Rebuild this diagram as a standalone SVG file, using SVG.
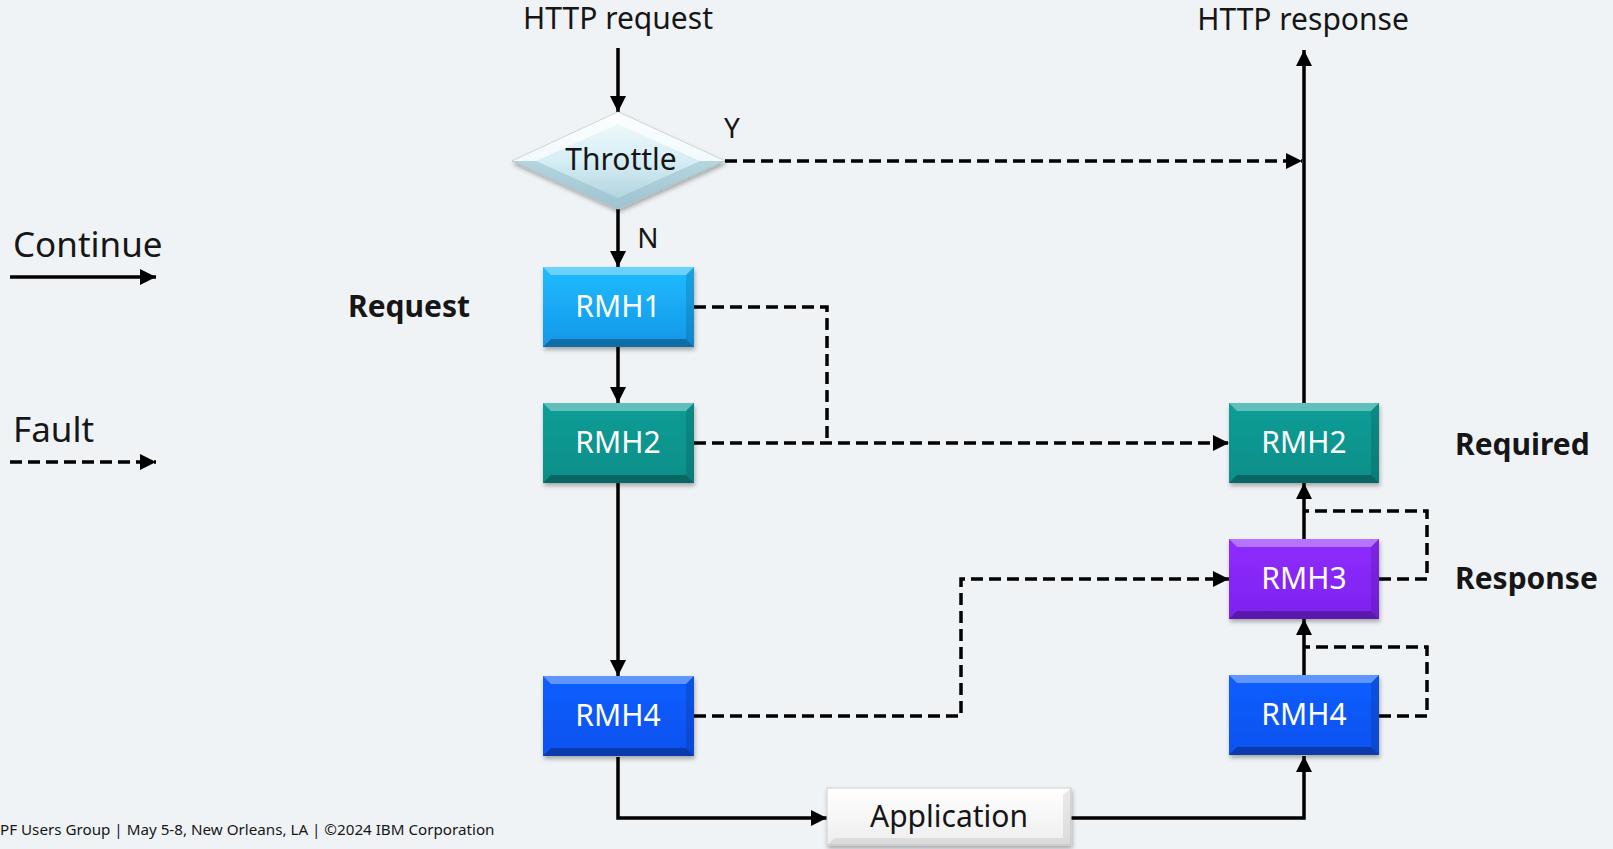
<svg xmlns="http://www.w3.org/2000/svg" width="1613" height="849" viewBox="0 0 1613 849">
<style>
.t{font-family:"Noto Sans","Open Sans","Liberation Sans",sans-serif;fill:#161616}
.lbl{font-size:30px}
.b{font-weight:bold;font-size:30px}
.w{fill:#ffffff;font-size:30px;text-anchor:middle}
.c{stroke:#000;stroke-width:3.5;fill:none}
.d{stroke:#000;stroke-width:3.5;fill:none;stroke-dasharray:12 6}
.edgeL{fill:#ffffff;opacity:0.35}
.edgeD{fill:#000000;opacity:0.28}
.edgeS{fill:#000000;opacity:0.12}
</style>
<defs>
<marker id="ah" viewBox="0 0 16 16" refX="16" refY="8" markerWidth="16" markerHeight="16" markerUnits="userSpaceOnUse" orient="auto">
<path d="M0,0 L16,8 L0,16 z" fill="#000"/>
</marker>
<filter id="sh" x="-10%" y="-10%" width="125%" height="130%">
<feDropShadow dx="1" dy="3" stdDeviation="2" flood-color="#000" flood-opacity="0.3"/>
</filter>
<linearGradient id="g1" x1="0" y1="0" x2="0" y2="1"><stop offset="0" stop-color="#1ebcff"/><stop offset="1" stop-color="#1596e6"/></linearGradient>
<linearGradient id="g2" x1="0" y1="0" x2="0" y2="1"><stop offset="0" stop-color="#0a9d97"/><stop offset="1" stop-color="#078e88"/></linearGradient>
<linearGradient id="g3" x1="0" y1="0" x2="0" y2="1"><stop offset="0" stop-color="#8f2cff"/><stop offset="1" stop-color="#7d22ee"/></linearGradient>
<linearGradient id="g4" x1="0" y1="0" x2="0" y2="1"><stop offset="0" stop-color="#0a5eff"/><stop offset="1" stop-color="#0752ef"/></linearGradient>
<linearGradient id="ga" x1="0" y1="0" x2="0" y2="1"><stop offset="0" stop-color="#ffffff"/><stop offset="1" stop-color="#eeeeee"/></linearGradient>
<linearGradient id="gd" x1="0" y1="0" x2="0" y2="1"><stop offset="0" stop-color="#f4fbfd"/><stop offset="0.5" stop-color="#d6eef5"/><stop offset="1" stop-color="#a9cdd9"/></linearGradient>
</defs>
<rect x="0" y="0" width="1613" height="849" fill="#f0f3f6"/>

<g id="legend">
<text class="t" x="13" y="257" font-size="35">Continue</text>
<line class="c" x1="10" y1="277" x2="156" y2="277" marker-end="url(#ah)"/>
<text class="t" x="13" y="442" font-size="35">Fault</text>
<line class="d" x1="10" y1="462" x2="156" y2="462" marker-end="url(#ah)"/>
</g>

<g id="labels">
<text class="t lbl" x="618" y="29" text-anchor="middle">HTTP request</text>
<text class="t lbl" x="1303" y="30" text-anchor="middle">HTTP response</text>
<text class="t" x="732" y="138" font-size="28" text-anchor="middle">Y</text>
<text class="t" x="648" y="248" font-size="28" text-anchor="middle">N</text>
<text class="t b" x="348" y="317">Request</text>
<text class="t b" x="1455" y="455">Required</text>
<text class="t b" x="1455" y="589">Response</text>
<text class="t" x="0" y="835" font-size="15.2" fill="#333">PF Users Group | May 5-8, New Orleans, LA | ©2024 IBM Corporation</text>
</g>

<g id="connectors">
<line class="c" x1="618" y1="48" x2="618" y2="112" marker-end="url(#ah)"/>
<line class="c" x1="618" y1="209" x2="618" y2="267" marker-end="url(#ah)"/>
<line class="c" x1="618" y1="347" x2="618" y2="403" marker-end="url(#ah)"/>
<line class="c" x1="618" y1="483" x2="618" y2="676" marker-end="url(#ah)"/>
<polyline class="c" points="618,757 618,818 827,818" marker-end="url(#ah)"/>
<polyline class="c" points="1071,818 1304,818 1304,756" marker-end="url(#ah)"/>
<line class="c" x1="1304" y1="675" x2="1304" y2="619" marker-end="url(#ah)"/>
<line class="c" x1="1304" y1="539" x2="1304" y2="483" marker-end="url(#ah)"/>
<line class="c" x1="1304" y1="403" x2="1304" y2="50" marker-end="url(#ah)"/>
<line class="d" x1="725" y1="161" x2="1302" y2="161" marker-end="url(#ah)"/>
<polyline class="d" points="694,307 827,307 827,443"/>
<line class="d" x1="694" y1="443" x2="1229" y2="443" marker-end="url(#ah)"/>
<polyline class="d" points="694,716 961,716 961,579 1229,579" marker-end="url(#ah)"/>
<polyline class="d" points="1379,579 1427,579 1427,511 1304,511"/>
<polyline class="d" points="1379,716 1427,716 1427,647 1304,647"/>
</g>

<g id="throttle">
<polygon points="618,112 725,161 618,209 512,161" fill="url(#gd)" stroke="#b8c4c8" stroke-width="1" filter="url(#sh)"/>
<polygon points="618,112 725,161 700,161 618,124 536,161 512,161" fill="#ffffff" opacity="0.7"/>
<polygon points="512,161 536,161 618,198 700,161 725,161 618,209" fill="#8fb8c6" opacity="0.45"/>
<text class="t" x="621" y="170" font-size="30" text-anchor="middle">Throttle</text>
</g>

<g id="rmh1">
<rect x="543" y="267" width="151" height="80" fill="url(#g1)" filter="url(#sh)"/>
<polygon class="edgeL" points="543,267 694,267 686,275 551,275"/>
<polygon class="edgeD" points="543,347 694,347 686,339 551,339"/>
<polygon class="edgeS" points="694,267 694,347 686,339 686,275"/>
<text class="t w" x="618" y="317">RMH1</text>
</g>

<g id="rmh2-req">
<rect x="543" y="403" width="151" height="80" fill="url(#g2)" filter="url(#sh)"/>
<polygon class="edgeL" points="543,403 694,403 686,411 551,411"/>
<polygon class="edgeD" points="543,483 694,483 686,475 551,475"/>
<polygon class="edgeS" points="694,403 694,483 686,475 686,411"/>
<text class="t w" x="618" y="453">RMH2</text>
</g>

<g id="rmh4-req">
<rect x="543" y="676" width="151" height="80" fill="url(#g4)" filter="url(#sh)"/>
<polygon class="edgeL" points="543,676 694,676 686,684 551,684"/>
<polygon class="edgeD" points="543,756 694,756 686,748 551,748"/>
<polygon class="edgeS" points="694,676 694,756 686,748 686,684"/>
<text class="t w" x="618" y="726">RMH4</text>
</g>

<g id="application">
<rect x="827" y="788" width="244" height="57" fill="url(#ga)" stroke="#cfcfcf" stroke-width="1" filter="url(#sh)"/>
<polygon points="1071,788 1071,845 1063,838 1063,795" fill="#000" opacity="0.08"/>
<polygon points="827,845 1071,845 1063,838 835,838" fill="#000" opacity="0.08"/>
<text class="t" x="949" y="827" font-size="30" text-anchor="middle">Application</text>
</g>

<g id="rmh2-resp">
<rect x="1229" y="403" width="150" height="80" fill="url(#g2)" filter="url(#sh)"/>
<polygon class="edgeL" points="1229,403 1379,403 1371,411 1237,411"/>
<polygon class="edgeD" points="1229,483 1379,483 1371,475 1237,475"/>
<polygon class="edgeS" points="1379,403 1379,483 1371,475 1371,411"/>
<text class="t w" x="1304" y="453">RMH2</text>
</g>

<g id="rmh3">
<rect x="1229" y="539" width="150" height="80" fill="url(#g3)" filter="url(#sh)"/>
<polygon class="edgeL" points="1229,539 1379,539 1371,547 1237,547"/>
<polygon class="edgeD" points="1229,619 1379,619 1371,611 1237,611"/>
<polygon class="edgeS" points="1379,539 1379,619 1371,611 1371,547"/>
<text class="t w" x="1304" y="589">RMH3</text>
</g>

<g id="rmh4-resp">
<rect x="1229" y="675" width="150" height="80" fill="url(#g4)" filter="url(#sh)"/>
<polygon class="edgeL" points="1229,675 1379,675 1371,683 1237,683"/>
<polygon class="edgeD" points="1229,755 1379,755 1371,747 1237,747"/>
<polygon class="edgeS" points="1379,675 1379,755 1371,747 1371,683"/>
<text class="t w" x="1304" y="725">RMH4</text>
</g>
</svg>
